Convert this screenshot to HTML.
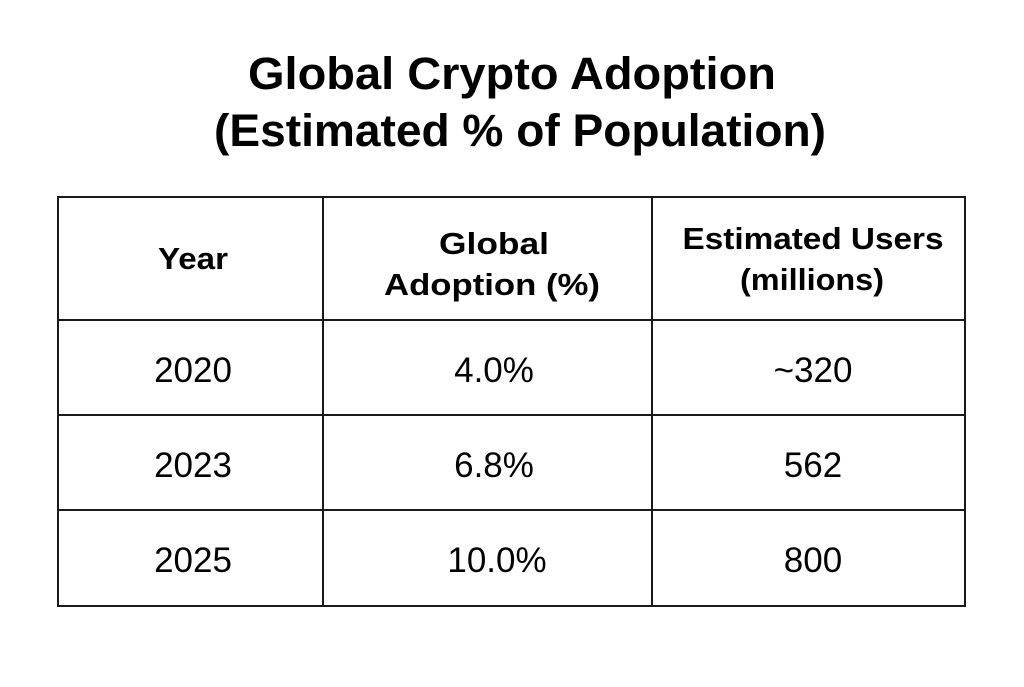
<!DOCTYPE html>
<html><head><meta charset="utf-8"><style>html,body{margin:0;padding:0;background:#fff}</style></head>
<body>
<svg width="1024" height="682" xmlns="http://www.w3.org/2000/svg" font-family="Liberation Sans, sans-serif">
<rect width="1024" height="682" fill="#fff"/>
<g font-weight="bold" font-size="45" text-anchor="middle" fill="#000">
<text x="512" y="89" textLength="528" lengthAdjust="spacingAndGlyphs">Global Crypto Adoption</text>
<text x="520" y="146" textLength="612" lengthAdjust="spacingAndGlyphs">(Estimated % of Population)</text>
</g>
<g stroke="#1a1a1a" stroke-width="2" fill="none">
<rect x="58" y="197" width="907" height="409"/>
<line x1="323" y1="197" x2="323" y2="606"/>
<line x1="652" y1="197" x2="652" y2="606"/>
<line x1="58" y1="320" x2="965" y2="320"/>
<line x1="58" y1="415" x2="965" y2="415"/>
<line x1="58" y1="510" x2="965" y2="510"/>
</g>
<g font-weight="bold" font-size="31" text-anchor="middle" fill="#000">
<text x="193" y="269" textLength="70" lengthAdjust="spacingAndGlyphs">Year</text>
<text x="494" y="254" textLength="110" lengthAdjust="spacingAndGlyphs">Global</text>
<text x="492" y="295" textLength="216" lengthAdjust="spacingAndGlyphs">Adoption (%)</text>
<text x="813" y="249" textLength="261" lengthAdjust="spacingAndGlyphs">Estimated Users</text>
<text x="812" y="290" textLength="144" lengthAdjust="spacingAndGlyphs">(millions)</text>
</g>
<g font-size="35" text-anchor="middle" fill="#000">
<text x="193" y="382">2020</text><text x="494" y="382">4.0%</text><text x="813" y="382">~320</text>
<text x="193" y="477">2023</text><text x="494" y="477">6.8%</text><text x="813" y="477">562</text>
<text x="193" y="572">2025</text><text x="497" y="572">10.0%</text><text x="813" y="572">800</text>
</g>
</svg>
</body></html>
